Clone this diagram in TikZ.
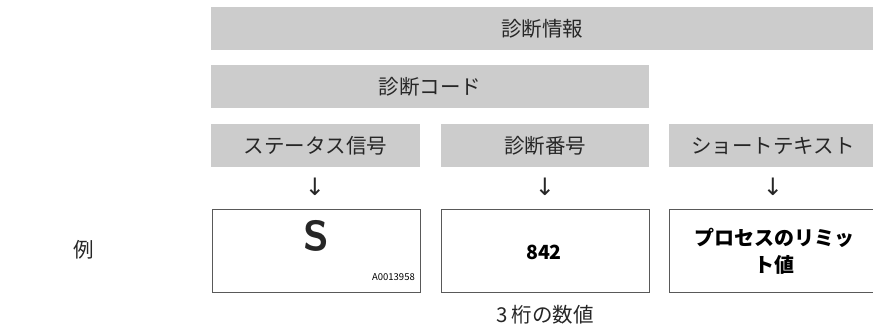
\documentclass[tikz,border=0pt]{standalone}
\usepackage{fontspec}
\setmainfont{Noto Sans CJK JP}
\newfontfamily\jp{Noto Sans CJK JP}
\newfontfamily\arr{DejaVu Sans}
\begin{document}
\begin{tikzpicture}[x=1pt,y=-1pt,
  bar/.style={fill=black!20,draw=none},
  hdr/.style={font=\jp\fontsize{20.5}{24}\selectfont,text=black!85,inner sep=0pt},
  frame/.style={draw=black!65,line width=0.9pt,fill=white},
  val/.style={font=\jp\bfseries\fontsize{20}{27}\selectfont,align=center,inner sep=0pt},
  dn/.style={font=\arr\fontsize{24}{26}\selectfont,text=black!85,inner sep=0pt}]
\useasboundingbox (0,0) rectangle (873,326);
% bars
\fill[bar] (211,7) rectangle (873,50);
\node[hdr] (info) at (542,28.5) {診断情報};
\fill[bar] (211,65) rectangle (649,108);
\node[hdr] (code) at (430,86.5) {診断コード};
\fill[bar] (211,124) rectangle (420,167);
\node[hdr] (stat) at (315.5,145.5) {ステータス信号};
\fill[bar] (441,124) rectangle (649,167);
\node[hdr] (num) at (545,145.5) {診断番号};
\fill[bar] (669,124) rectangle (873,167);
\node[hdr] (txt) at (773,145.5) {ショートテキスト};
% arrows
\node[dn] (a1) at (315,187) {↓};
\node[dn] (a2) at (545,187) {↓};
\node[dn] (a3) at (773,187) {↓};
% boxes
\draw[frame] (212,209) rectangle (420,292);
\node[font=\sffamily\bfseries\fontsize{42}{42}\selectfont,text=black!85,inner sep=0pt] (s) at (316,236) {S};
\node[font=\jp\fontsize{9.5}{11}\selectfont,anchor=east,inner sep=0pt] (fig) at (415,277) {A0013958};
\draw[frame] (441,209) rectangle (649,292);
\node[font=\jp\bfseries\fontsize{19.5}{22}\selectfont,inner sep=0pt] (v842) at (544,252) {842};
\draw[frame] (669,209) rectangle (873.5,292);
\node[val] (limit) at (774,251.5) {プロセスのリミッ\\ト値};
% labels
\node[hdr] (rei) at (84,250) {例};
\node[hdr] (dig) at (545,315) {3 桁の数値};
\end{tikzpicture}
\end{document}
